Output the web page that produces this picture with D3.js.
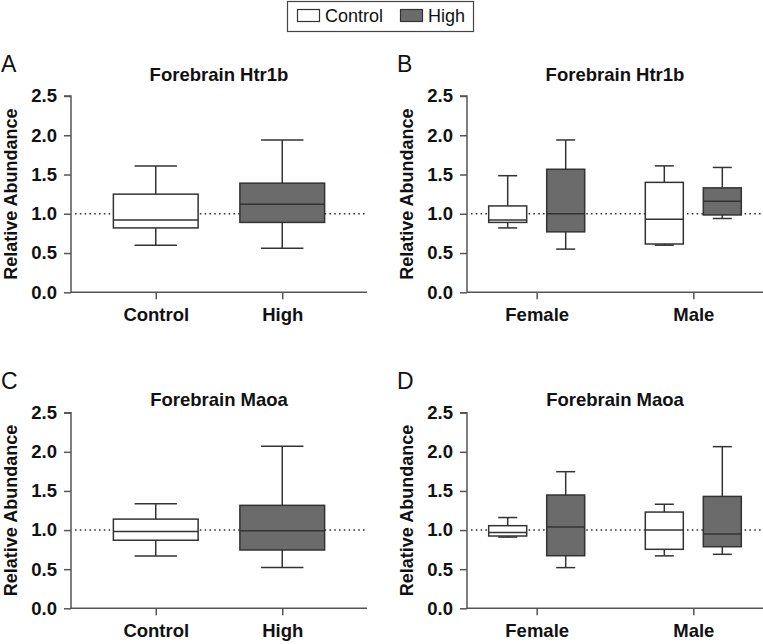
<!DOCTYPE html>
<html>
<head>
<meta charset="utf-8">
<script src="https://cdn.jsdelivr.net/npm/d3@7"></script>
<style>
  body { margin: 0; background: #fff; }
  svg { display: block; font-family: "Liberation Sans", Arial, Helvetica, sans-serif; }
</style>
</head>
<body>
<svg id="chart" width="763" height="644"></svg>
<script>
// ---------- data ----------
const groups = ["Control", "High"];
const sexes = ["Female", "Male"];
const yTicks = [0.0, 0.5, 1.0, 1.5, 2.0, 2.5];
const panelLetters = ["A", "B", "C", "D"];
const panelTitles = ["Forebrain Htr1b", "Forebrain Htr1b", "Forebrain Maoa", "Forebrain Maoa"];
const yLabel = "Relative Abundance";

// box stats: [low whisker, Q1, median, Q3, high whisker]
const htr1bAll = [
  [0.60, 0.82, 0.92, 1.25, 1.61],   // Control
  [0.56, 0.89, 1.12, 1.39, 1.94]    // High
];
const htr1bSex = [
  [[0.82, 0.89, 0.92, 1.10, 1.485], [0.55, 0.77, 1.00, 1.567, 1.94]],   // Female: Control, High
  [[0.60, 0.615, 0.93, 1.40, 1.61], [0.94, 0.985, 1.16, 1.33, 1.59]]    // Male: Control, High
];
const maoaAll = [
  [0.67, 0.87, 0.98, 1.14, 1.335],
  [0.52, 0.745, 0.99, 1.316, 2.07]
];
const maoaSex = [
  [[0.91, 0.924, 0.97, 1.056, 1.16], [0.52, 0.672, 1.04, 1.448, 1.746]],
  [[0.67, 0.754, 1.00, 1.23, 1.33], [0.69, 0.787, 0.95, 1.43, 2.066]]
];

const fills = { "Control": "#ffffff", "High": "#6b6b6b" };
const lineCol = "#333333";
const axisCol = "#555555";

const svg = d3.select("#chart");

// ---------- legend ----------
const lg = svg.append("g");
lg.append("rect").attr("x", 287.5).attr("y", 1.5).attr("width", 186).attr("height", 30)
  .attr("fill", "#fff").attr("stroke", "#444").attr("stroke-width", 1.2);
const legendItems = [{ k: "Control", x: 297, tx: 325 }, { k: "High", x: 400, tx: 428 }];
legendItems.forEach(d => {
  lg.append("rect").attr("x", d.x + 0.5).attr("y", 9.5).attr("width", 22).attr("height", 12)
    .attr("fill", fills[d.k]).attr("stroke", lineCol).attr("stroke-width", 1.2);
  lg.append("text").attr("x", d.tx).attr("y", 22).attr("font-size", 18).attr("fill", "#111").text(d.k);
});

// ---------- panels ----------
const panels = [
  { letter: 0, x0: 71, x1: 367, yTop: 96, yBot: 292.3, titleY: 81, mode: "all", data: htr1bAll },
  { letter: 1, x0: 467, x1: 763, yTop: 96, yBot: 292.3, titleY: 81, mode: "sex", data: htr1bSex },
  { letter: 2, x0: 71, x1: 367, yTop: 412.7, yBot: 608.3, titleY: 406, mode: "all", data: maoaAll },
  { letter: 3, x0: 467, x1: 763, yTop: 412.7, yBot: 608.3, titleY: 406, mode: "sex", data: maoaSex }
];

function drawBox(g, cx, w, s, y, fill) {
  const capW = w / 2;
  // whiskers
  g.append("line").attr("x1", cx).attr("x2", cx).attr("y1", y(s[4])).attr("y2", y(s[3]))
    .attr("stroke", lineCol).attr("stroke-width", 1.5);
  g.append("line").attr("x1", cx).attr("x2", cx).attr("y1", y(s[1])).attr("y2", y(s[0]))
    .attr("stroke", lineCol).attr("stroke-width", 1.5);
  g.append("line").attr("x1", cx - capW / 2).attr("x2", cx + capW / 2).attr("y1", y(s[4])).attr("y2", y(s[4]))
    .attr("stroke", lineCol).attr("stroke-width", 1.5);
  g.append("line").attr("x1", cx - capW / 2).attr("x2", cx + capW / 2).attr("y1", y(s[0])).attr("y2", y(s[0]))
    .attr("stroke", lineCol).attr("stroke-width", 1.5);
  // box
  g.append("rect").attr("x", cx - w / 2).attr("y", y(s[3])).attr("width", w).attr("height", y(s[1]) - y(s[3]))
    .attr("fill", fill).attr("stroke", lineCol).attr("stroke-width", 1.5);
  // median
  g.append("line").attr("x1", cx - w / 2).attr("x2", cx + w / 2).attr("y1", y(s[2])).attr("y2", y(s[2]))
    .attr("stroke", lineCol).attr("stroke-width", 1.5);
}

panels.forEach(p => {
  const g = svg.append("g");
  const y = d3.scaleLinear().domain([0, 2.5]).range([p.yBot, p.yTop]);
  const cats = p.mode === "all" ? groups : sexes;
  const x = d3.scalePoint().domain(cats).range([p.x0, p.x1]).padding(p.mode === "all" ? 0.67 : 0.445);

  // panel letter
  g.append("text").attr("x", p.x0 - 70).attr("y", p.yTop - 24).attr("font-size", 23).attr("fill", "#111")
    .text(panelLetters[p.letter]);

  // title
  g.append("text").attr("x", (p.x0 + p.x1) / 2).attr("y", p.titleY).attr("text-anchor", "middle")
    .attr("font-size", 18.5).attr("font-weight", "bold").attr("fill", "#111").text(panelTitles[p.letter]);

  // reference dotted line at 1.0
  g.append("line").attr("x1", p.x0 + 4).attr("x2", p.x1).attr("y1", y(1)).attr("y2", y(1))
    .attr("stroke", lineCol).attr("stroke-width", 1.5).attr("stroke-dasharray", "1.6,3.2");

  // boxes
  if (p.mode === "all") {
    const w = x.step() * 0.67;
    groups.forEach((gname, i) => drawBox(g, x(gname), w, p.data[i], y, fills[gname]));
  } else {
    const w = 38, off = 29;
    sexes.forEach((sx, si) => {
      groups.forEach((gname, gi) => {
        drawBox(g, x(sx) + (gi === 0 ? -off : off), w, p.data[si][gi], y, fills[gname]);
      });
    });
  }

  // y axis
  const ya = g.append("g").attr("transform", `translate(${p.x0},0)`)
    .call(d3.axisLeft(y).tickValues(yTicks).tickFormat(d3.format(".1f")).tickSize(7).tickPadding(7));
  ya.select(".domain").attr("stroke", axisCol).attr("stroke-width", 1.5).attr("d", `M-7,${p.yTop}H0V${p.yBot}`);
  ya.selectAll(".tick line").attr("stroke", axisCol).attr("stroke-width", 1.5);
  ya.selectAll(".tick text").attr("font-size", 18.5).attr("font-weight", "bold").attr("fill", "#111")
    .attr("font-family", "Liberation Sans, Arial, sans-serif");

  // x axis
  const xa = g.append("g").attr("transform", `translate(0,${p.yBot})`)
    .call(d3.axisBottom(x).tickSize(7).tickPadding(9));
  xa.select(".domain").attr("stroke", axisCol).attr("stroke-width", 1.5).attr("d", `M${p.x0},0H${p.x1}`);
  xa.selectAll(".tick line").attr("stroke", axisCol).attr("stroke-width", 1.5);
  xa.selectAll(".tick text").attr("font-size", 18.5).attr("font-weight", "bold").attr("fill", "#111")
    .attr("font-family", "Liberation Sans, Arial, sans-serif");

  // y label
  g.append("text").attr("transform", `translate(${p.x0 - 54},${(p.yTop + p.yBot) / 2}) rotate(-90)`)
    .attr("text-anchor", "middle").attr("font-size", 18).attr("font-weight", "bold").attr("fill", "#111")
    .text(yLabel);
});
</script>
</body>
</html>
